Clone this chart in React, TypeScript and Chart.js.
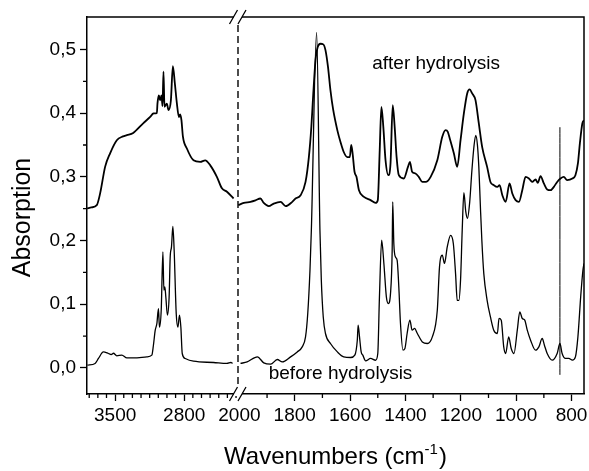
import React, { useEffect, useRef } from 'react';
import { Chart, registerables } from 'chart.js';

Chart.register(...registerables);

// ---------- data (wavenumber in cm-1, absorption) ----------
const AFTER_LEFT_WN = [3784, 3740, 3686, 3652, 3601, 3551, 3483, 3420, 3381, 3317, 3216, 3145, 3112, 3077, 3071, 3057, 3044, 3030, 3020, 3010, 3000, 2976, 2959, 2935, 2915, 2895, 2874, 2854, 2841, 2828, 2813, 2773, 2706, 2638, 2587, 2536, 2469, 2418, 2367, 2300];
const AFTER_LEFT_A = [0.2505, 0.252, 0.2555, 0.274, 0.316, 0.337, 0.3575, 0.3635, 0.3655, 0.369, 0.384, 0.394, 0.3995, 0.4, 0.415, 0.428, 0.42, 0.428, 0.411, 0.465, 0.41, 0.415, 0.405, 0.42, 0.474, 0.447, 0.415, 0.394, 0.398, 0.389, 0.363, 0.3445, 0.326, 0.3235, 0.326, 0.318, 0.3, 0.282, 0.2765, 0.266];

const BEFORE_LEFT_WN = [3781, 3703, 3669, 3619, 3568, 3540, 3517, 3483, 3432, 3381, 3314, 3178, 3128, 3112, 3094, 3077, 3061, 3051, 3033, 3016, 3006, 2996, 2986, 2970, 2953, 2942, 2929, 2915, 2902, 2881, 2864, 2848, 2834, 2820, 2790, 2706, 2503, 2367, 2327, 2310];
const BEFORE_LEFT_A = [0.0042, 0.007, 0.0148, 0.025, 0.0226, 0.021, 0.023, 0.019, 0.02, 0.0157, 0.0157, 0.0173, 0.02, 0.0356, 0.059, 0.0697, 0.093, 0.064, 0.0906, 0.182, 0.122, 0.127, 0.111, 0.083, 0.111, 0.174, 0.19, 0.222, 0.185, 0.0854, 0.064, 0.083, 0.064, 0.0226, 0.0148, 0.0105, 0.0085, 0.007, 0.0085, 0.007];

const AFTER_RIGHT_WN = [2004, 1984, 1960, 1942, 1924, 1912, 1894, 1876, 1851, 1833, 1809, 1797, 1779, 1761, 1749, 1740, 1733, 1725, 1717, 1707, 1697, 1689, 1680, 1671, 1661, 1646, 1635, 1623, 1610, 1601, 1596, 1591, 1584, 1577, 1568, 1550, 1526, 1508, 1500, 1493, 1487, 1480, 1472, 1462, 1454, 1446, 1439, 1432, 1424, 1406, 1391, 1384, 1376, 1364, 1352, 1339, 1327, 1309, 1285, 1267, 1255, 1247, 1240, 1225, 1213, 1201, 1189, 1177, 1168, 1159, 1147, 1135, 1123, 1105, 1093, 1081, 1068, 1060, 1050, 1038, 1024, 1014, 1002, 990, 978, 966, 954, 942, 930, 922, 912, 900, 888, 876, 864, 852, 840, 828, 816, 797, 786, 777, 770, 761, 755];
const AFTER_RIGHT_A = [0.2555, 0.259, 0.2607, 0.263, 0.266, 0.259, 0.254, 0.258, 0.2607, 0.254, 0.2607, 0.266, 0.271, 0.292, 0.331, 0.3785, 0.431, 0.483, 0.504, 0.509, 0.508, 0.499, 0.473, 0.436, 0.405, 0.373, 0.355, 0.339, 0.331, 0.331, 0.35, 0.337, 0.308, 0.3, 0.279, 0.2685, 0.2634, 0.2591, 0.2634, 0.342, 0.41, 0.3785, 0.326, 0.3026, 0.321, 0.4125, 0.3785, 0.331, 0.3026, 0.2974, 0.3157, 0.3235, 0.308, 0.3053, 0.3, 0.292, 0.292, 0.3, 0.326, 0.3628, 0.3733, 0.3706, 0.3602, 0.3367, 0.3157, 0.3576, 0.3995, 0.431, 0.4372, 0.431, 0.4204, 0.3838, 0.3471, 0.3157, 0.292, 0.287, 0.2842, 0.287, 0.2712, 0.2607, 0.2896, 0.2739, 0.2634, 0.2607, 0.279, 0.3, 0.2974, 0.292, 0.2958, 0.2905, 0.301, 0.2896, 0.2802, 0.279, 0.2842, 0.292, 0.2974, 0.3, 0.2948, 0.2974, 0.3026, 0.321, 0.3523, 0.3838, 0.389];

const BEFORE_RIGHT_WN = [1996, 1972, 1935, 1912, 1887, 1863, 1845, 1815, 1791, 1773, 1761, 1753, 1745, 1740, 1721, 1709, 1704, 1697, 1689, 1671, 1646, 1623, 1598, 1583, 1574, 1571, 1566, 1560, 1554, 1544, 1526, 1508, 1500, 1494, 1486, 1478, 1469, 1462, 1454, 1448, 1446, 1442, 1436, 1430, 1424, 1418, 1409, 1402, 1394, 1384, 1376, 1367, 1357, 1339, 1321, 1303, 1285, 1277, 1267, 1259, 1249, 1237, 1227, 1219, 1213, 1207, 1201, 1195, 1189, 1182, 1176, 1168, 1160, 1152, 1146, 1140, 1135, 1129, 1124, 1117, 1105, 1093, 1081, 1068, 1062, 1054, 1045, 1038, 1027, 1018, 1008, 996, 987, 978, 969, 960, 948, 930, 918, 906, 898, 888, 870, 852, 842, 834, 822, 810, 797, 786, 777, 767, 759, 755];
const BEFORE_RIGHT_A = [0.007, 0.0094, 0.0173, 0.0079, 0.0058, 0.0132, 0.0094, 0.0173, 0.0251, 0.033, 0.0487, 0.0854, 0.153, 0.216, 0.527, 0.216, 0.138, 0.08, 0.054, 0.0383, 0.0251, 0.0173, 0.0163, 0.02, 0.0435, 0.067, 0.0487, 0.0251, 0.02, 0.011, 0.0148, 0.012, 0.0226, 0.1115, 0.2005, 0.164, 0.1115, 0.101, 0.117, 0.185, 0.2607, 0.195, 0.174, 0.169, 0.127, 0.0697, 0.0278, 0.0305, 0.054, 0.0749, 0.0592, 0.0619, 0.054, 0.0408, 0.0383, 0.0487, 0.0906, 0.1586, 0.177, 0.164, 0.19, 0.208, 0.195, 0.148, 0.106, 0.106, 0.138, 0.216, 0.275, 0.245, 0.235, 0.26, 0.31, 0.35, 0.365, 0.35, 0.316, 0.25, 0.2, 0.148, 0.106, 0.08, 0.0592, 0.054, 0.0776, 0.0749, 0.033, 0.0226, 0.0487, 0.0305, 0.0226, 0.0592, 0.088, 0.0776, 0.0749, 0.0592, 0.0435, 0.0278, 0.033, 0.0462, 0.0356, 0.0226, 0.0121, 0.0226, 0.0383, 0.0226, 0.0148, 0.0148, 0.0121, 0.0173, 0.0487, 0.1115, 0.153, 0.164];

// thin vertical marker line
const MARKER_WN = [842, 842];
const MARKER_A = [0.378, -0.011];

// axes
const LEFT_RANGE = [2255, 3785];
const RIGHT_RANGE = [755, 2005];
const Y_RANGE = [-0.041, 0.551];
const Y_TICKS = [0, 0.1, 0.2, 0.3, 0.4, 0.5];
const Y_MINOR = [0.05, 0.15, 0.25, 0.35, 0.45];
const X_LEFT_TICKS = [3500, 2800];
const X_LEFT_MINOR = [3762.5, 3675, 3587.5, 3412.5, 3325, 3237.5, 3150, 3062.5, 2975, 2887.5, 2712.5, 2625, 2537.5, 2450, 2362.5, 2275];
const X_RIGHT_TICKS = [2000, 1800, 1600, 1400, 1200, 1000, 800];
const X_RIGHT_MINOR = [1900, 1700, 1500, 1300, 1100, 900];

// in-plot annotations (data coordinates on the right section)
const NOTE_TEXTS = ['after hydrolysis', 'before hydrolysis'];
const NOTE_WN = [1520, 1894];
const NOTE_A = [0.4686, -0.0182];

const FONT = '"Liberation Sans", Arial, Helvetica, sans-serif';

const pts = (xs: number[], ys: number[]) => xs.map((x, i) => ({ x, y: ys[i] }));

const decor = {
  id: 'decor',
  afterDraw(chart: any) {
    const { ctx, chartArea: ca, scales } = chart;
    const x1 = scales.x1, x2 = scales.x2, y = scales.y;
    ctx.save();
    ctx.strokeStyle = '#000';
    ctx.lineWidth = 1.5;
    ctx.beginPath();
    ctx.moveTo(ca.left, ca.top);
    ctx.lineTo(ca.right, ca.top);
    ctx.lineTo(ca.right, ca.bottom);
    ctx.stroke();

    ctx.lineWidth = 1.3;
    ctx.beginPath();
    X_LEFT_MINOR.forEach((v) => { const p = x1.getPixelForValue(v); ctx.moveTo(p, ca.bottom); ctx.lineTo(p, ca.bottom + 4); });
    X_RIGHT_MINOR.forEach((v) => { const p = x2.getPixelForValue(v); ctx.moveTo(p, ca.bottom); ctx.lineTo(p, ca.bottom + 4); });
    Y_MINOR.forEach((v) => { const p = y.getPixelForValue(v); ctx.moveTo(ca.left, p); ctx.lineTo(ca.left - 4, p); });
    ctx.stroke();

    // axis break
    const xb = x2.left;
    ctx.fillStyle = '#fff';
    ctx.lineWidth = 1.3;
    [ca.top, ca.bottom].forEach((yy: number) => {
      ctx.fillRect(xb - 4, yy - 2, 8, 4);
      ctx.beginPath();
      [-4.5, 4].forEach((dx) => { ctx.moveTo(xb + dx - 4, yy + 7); ctx.lineTo(xb + dx + 4, yy - 7); });
      ctx.stroke();
    });
    ctx.lineWidth = 1.4;
    ctx.setLineDash([7, 4]);
    ctx.beginPath();
    ctx.moveTo(xb, ca.top + 8);
    ctx.lineTo(xb, ca.bottom - 8);
    ctx.stroke();
    ctx.setLineDash([]);

    // notes
    ctx.fillStyle = '#000';
    ctx.font = `19px ${FONT}`;
    ctx.textAlign = 'left';
    ctx.textBaseline = 'alphabetic';
    NOTE_TEXTS.forEach((t, i) => ctx.fillText(t, x2.getPixelForValue(NOTE_WN[i]), y.getPixelForValue(NOTE_A[i])));

    // y title
    ctx.save();
    ctx.translate(23, (ca.top + ca.bottom) / 2 + 12);
    ctx.rotate(-Math.PI / 2);
    ctx.textAlign = 'center';
    ctx.textBaseline = 'middle';
    ctx.font = `25px ${FONT}`;
    ctx.fillText('Absorption', 0, 0);
    ctx.restore();

    // x title with superscript
    const main = 'Wavenumbers (cm';
    const sup = '-1';
    const end = ')';
    ctx.font = `24px ${FONT}`;
    const wMain = ctx.measureText(main).width;
    const wEnd = ctx.measureText(end).width;
    ctx.font = `15px ${FONT}`;
    const wSup = ctx.measureText(sup).width;
    const total = wMain + wSup + wEnd + 1;
    let xs = (ca.left + ca.right) / 2 - total / 2;
    const base = 464;
    ctx.font = `24px ${FONT}`;
    ctx.fillText(main, xs, base);
    xs += wMain;
    ctx.font = `15px ${FONT}`;
    ctx.fillText(sup, xs, base - 10);
    xs += wSup + 1;
    ctx.font = `24px ${FONT}`;
    ctx.fillText(end, xs, base);
    ctx.restore();
  },
};

export default function App() {
  const ref = useRef<HTMLCanvasElement | null>(null);
  useEffect(() => {
    if (!ref.current) return;
    const line = (data: any, axis: string, w: number) => ({
      data,
      xAxisID: axis,
      yAxisID: 'y',
      borderColor: '#000',
      borderWidth: w,
      pointRadius: 0,
      cubicInterpolationMode: 'monotone',
      fill: false,
    });
    const tickFont = { family: FONT, size: 19 };
    const xCommon = (weight: number, range: number[], ticks: number[], hideFirst: boolean) => ({
      type: 'linear',
      position: 'bottom',
      stack: 'wn',
      stackWeight: weight,
      min: range[0],
      max: range[1],
      reverse: true,
      offset: false,
      afterBuildTicks: (s: any) => { s.ticks = ticks.map((v) => ({ value: v })); },
      afterFit: (s: any) => { s.height = 77; s.paddingLeft = 0; s.paddingRight = 0; },
      ticks: { autoSkip: false, maxRotation: 0, minRotation: 0, padding: 3, color: '#000', font: tickFont, callback: (v: any) => String(v) },
      grid: {
        drawOnChartArea: false,
        tickLength: 7,
        tickWidth: 1.3,
        tickColor: (c: any) => (hideFirst && c.tick && c.tick.value === 2000 ? 'rgba(0,0,0,0)' : '#000'),
      },
      border: { color: '#000', width: 1.5 },
    });
    const chart = new Chart(ref.current, {
      type: 'line',
      data: {
        datasets: [
          line(pts(AFTER_LEFT_WN, AFTER_LEFT_A), 'x1', 1.8),
          line(pts(BEFORE_LEFT_WN, BEFORE_LEFT_A), 'x1', 1.3),
          line(pts(AFTER_RIGHT_WN, AFTER_RIGHT_A), 'x2', 1.8),
          line(pts(BEFORE_RIGHT_WN, BEFORE_RIGHT_A), 'x2', 1.3),
          line(pts(MARKER_WN, MARKER_A), 'x2', 1),
        ] as any,
      },
      options: {
        responsive: false,
        animation: false,
        events: [],
        layout: { padding: { top: 17, right: 5, left: 0, bottom: 0 } },
        plugins: { legend: { display: false }, tooltip: { enabled: false } },
        scales: {
          x1: xCommon(151, LEFT_RANGE, X_LEFT_TICKS, false),
          x2: xCommon(346, RIGHT_RANGE, X_RIGHT_TICKS, true),
          y: {
            type: 'linear',
            position: 'left',
            min: Y_RANGE[0],
            max: Y_RANGE[1],
            afterBuildTicks: (s: any) => { s.ticks = Y_TICKS.map((v) => ({ value: v })); },
            afterFit: (s: any) => { s.width = 87; },
            ticks: { padding: 4, color: '#000', font: tickFont, callback: (v: any) => Number(v).toFixed(1).replace('.', ',') },
            grid: { drawOnChartArea: false, tickLength: 7, tickWidth: 1.3, tickColor: '#000' },
            border: { color: '#000', width: 1.5 },
          },
        } as any,
      },
      plugins: [decor],
    } as any);
    return () => chart.destroy();
  }, []);
  return (
    <div style={{ position: 'absolute', left: 0, top: 0, width: 589, height: 471, background: '#fff' }}>
      <canvas ref={ref} width={589} height={471} style={{ display: 'block' }} />
    </div>
  );
}
